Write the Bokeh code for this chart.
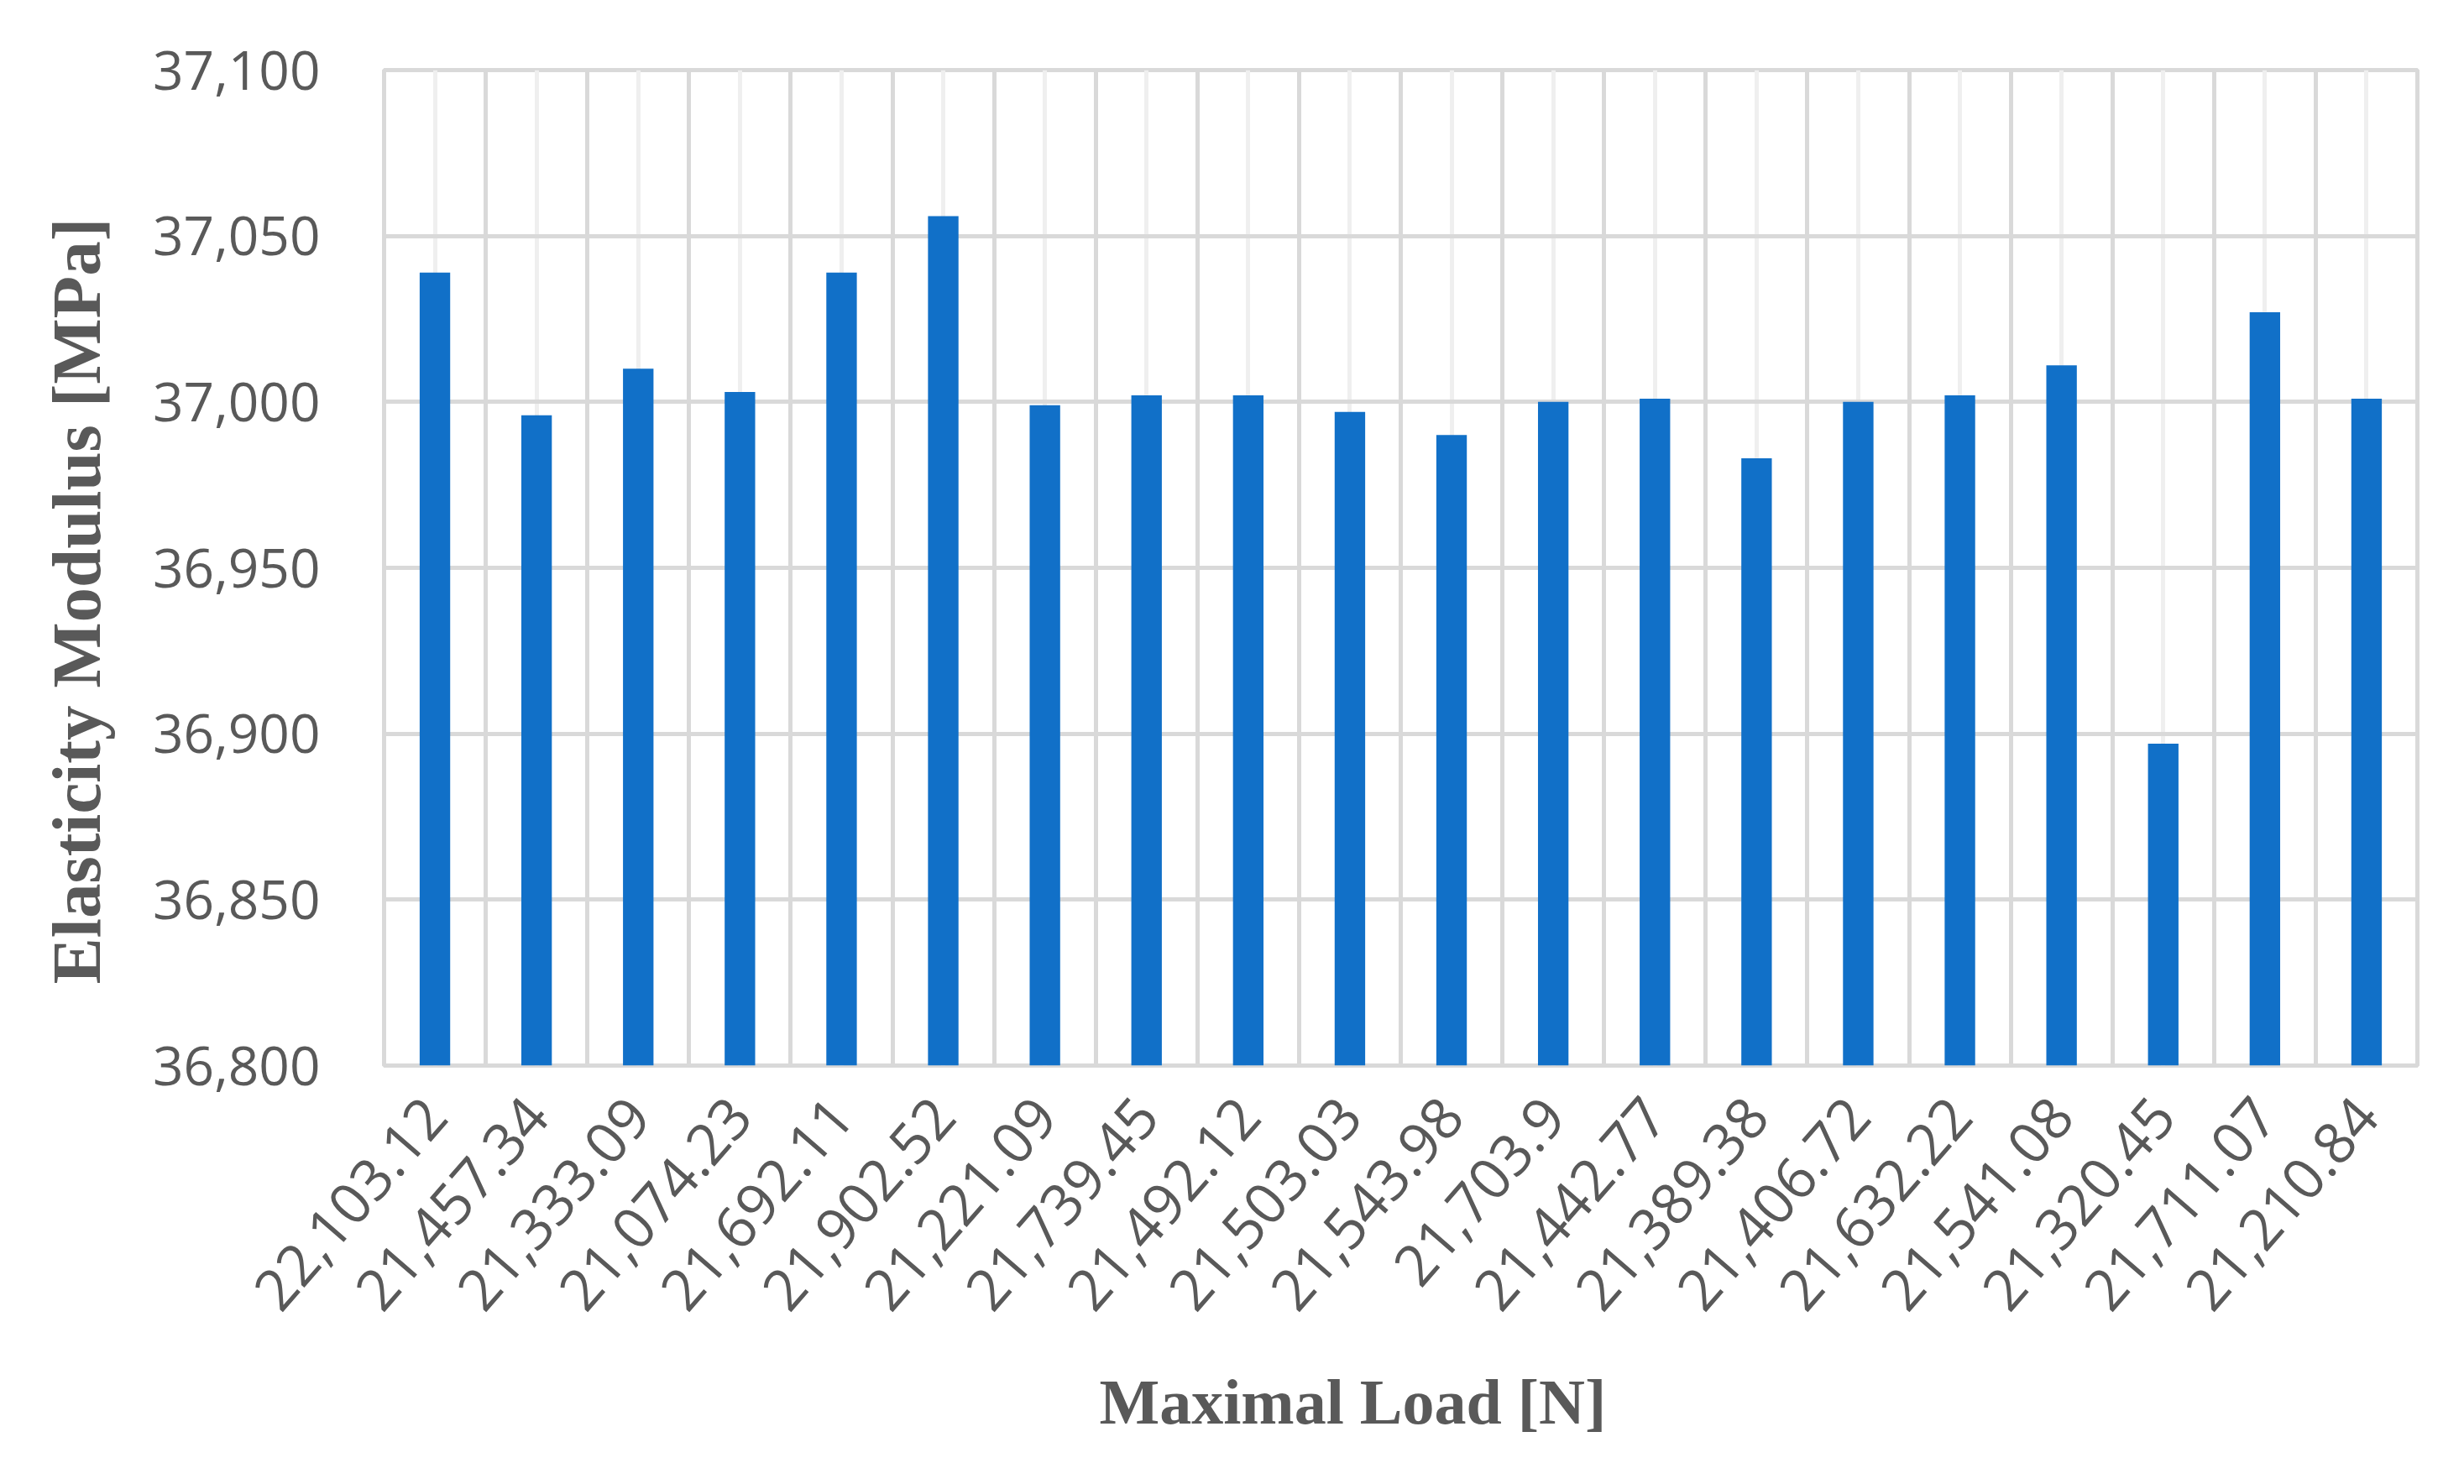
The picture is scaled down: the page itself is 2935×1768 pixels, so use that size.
import math
from bokeh.plotting import figure
from bokeh.models import FixedTicker, Grid, NumeralTickFormatter, Range1d, Title
from bokeh.embed import file_html
from bokeh.resources import INLINE

loads = ["22,103.12", "21,457.34", "21,333.09", "21,074.23", "21,692.11",
         "21,902.52", "21,221.09", "21,739.45", "21,492.12", "21,503.03",
         "21,543.98", "21,703.9", "21,442.77", "21,389.38", "21,406.72",
         "21,632.22", "21,541.08", "21,320.45", "21,711.07", "21,210.84"]
modulus = [37039, 36996, 37010, 37003, 37039,
           37056, 36999, 37002, 37002, 36997,
           36990, 37000, 37001, 36983, 37000,
           37002, 37011, 36897, 37027, 37001]
y_ticks = [36800, 36850, 36900, 36950, 37000, 37050, 37100]

n = len(loads)
xs = list(range(1, n + 1))

p = figure(width=2919, height=1752,
           x_range=Range1d(0.5, n + 0.5),
           y_range=Range1d(y_ticks[0], y_ticks[-1]),
           output_backend="svg", toolbar_location=None,
           min_border_left=455, min_border_right=40,
           min_border_top=83, min_border_bottom=478)
p.background_fill_color = "white"
p.border_fill_color = "white"

p.vbar(x=xs, top=modulus, bottom=y_ticks[0], width=0.3,
       fill_color="#1170c8", line_color=None)

grid_col = "#d9d9d9"
p.ygrid.ticker = FixedTicker(ticks=y_ticks)
p.ygrid.grid_line_color = grid_col
p.ygrid.grid_line_width = 5
p.xgrid.ticker = FixedTicker(ticks=xs)
p.xgrid.grid_line_color = "#efefef"
p.xgrid.grid_line_width = 5
bounds = [i + 0.5 for i in range(n + 1)]
p.add_layout(Grid(dimension=0, ticker=FixedTicker(ticks=bounds),
                  grid_line_color=grid_col, grid_line_width=5))
p.outline_line_color = grid_col
p.outline_line_width = 5

txt_col = "#595959"

xa = p.xaxis[0]
xa.ticker = FixedTicker(ticks=xs)
xa.major_label_overrides = {x: lab for x, lab in zip(xs, loads)}
xa.major_label_orientation = math.radians(49)
xa.axis_line_color = None
xa.major_tick_line_color = None
xa.minor_tick_line_color = None
xa.major_label_text_font = "Open Sans"
xa.major_label_text_font_size = "68px"
xa.major_label_text_color = txt_col
xa.major_label_standoff = 42

ya = p.yaxis[0]
ya.ticker = FixedTicker(ticks=y_ticks)
ya.formatter = NumeralTickFormatter(format="0,0")
ya.axis_line_color = None
ya.major_tick_line_color = None
ya.minor_tick_line_color = None
ya.major_label_text_font = "Open Sans"
ya.major_label_text_font_size = "64px"
ya.major_label_text_color = txt_col
ya.major_label_standoff = 70

p.add_layout(Title(text="Maximal Load [N]", align="left", offset=852,
                   standoff=82, text_font="Liberation Serif",
                   text_font_style="bold", text_font_size="76px",
                   text_color=txt_col), "below")
p.add_layout(Title(text="Elasticity Modulus [MPa]", align="left",
                   offset=97, standoff=84, text_font="Liberation Serif",
                   text_font_style="bold", text_font_size="83px",
                   text_color=txt_col), "left")

open("out.html", "w").write(file_html(p, INLINE))
